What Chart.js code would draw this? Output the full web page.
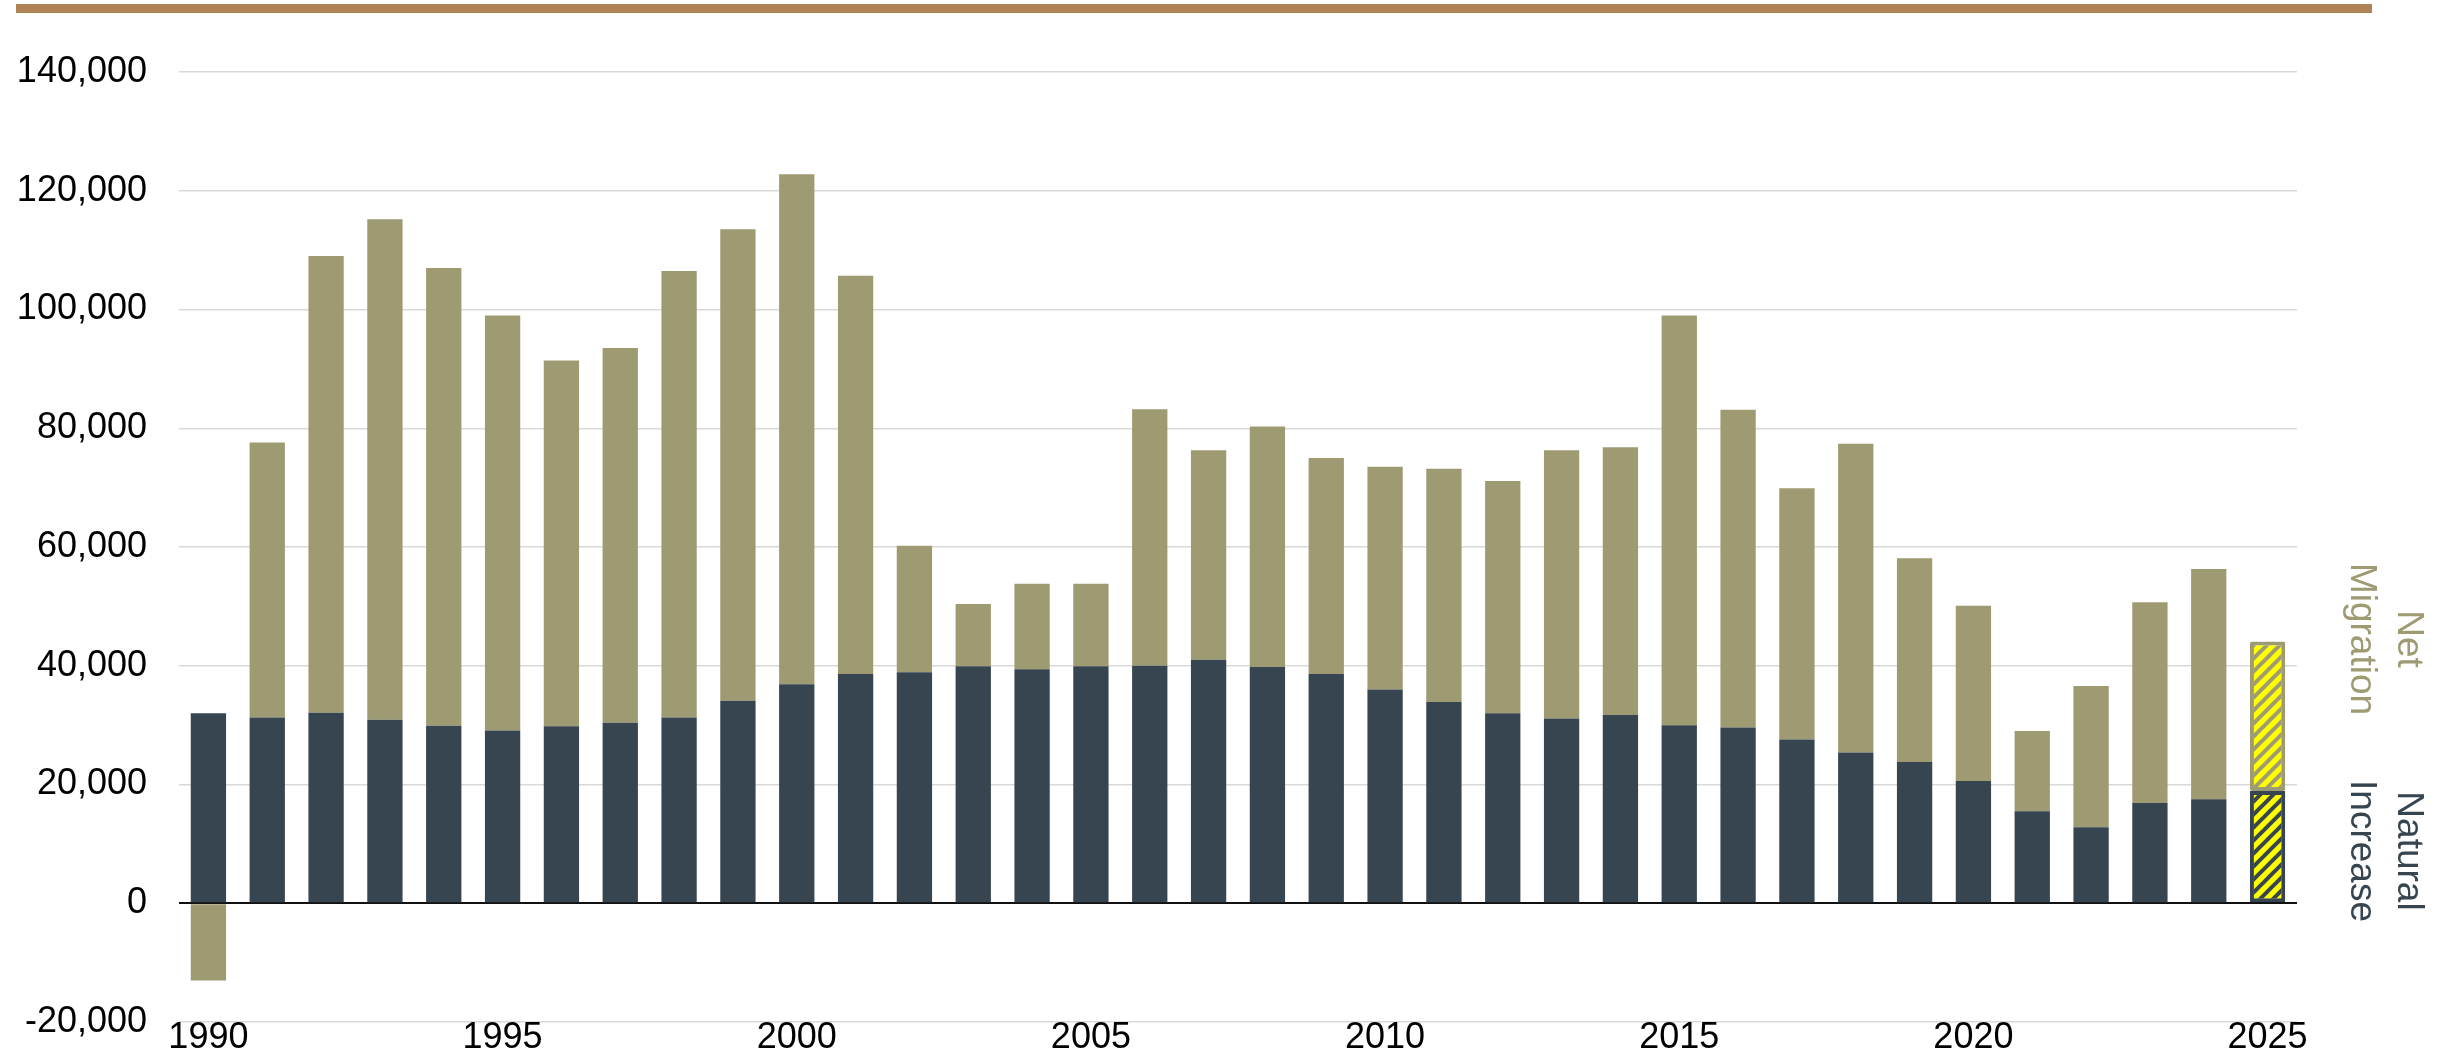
<!DOCTYPE html>
<html>
<head>
<meta charset="utf-8">
<title>Population growth components</title>
<script src="https://cdn.jsdelivr.net/npm/chart.js@4/dist/chart.umd.min.js"></script>
<style>
    html, body { margin: 0; padding: 0; background: #fff; }
    #wrap { width: 2440px; height: 1058px; }
</style>
</head>
<body>
<div id="wrap"><canvas id="barChart" width="2440" height="1058"></canvas></div>
<script>
const years = ['1990', '1991', '1992', '1993', '1994', '1995', '1996', '1997', '1998', '1999',
    '2000', '2001', '2002', '2003', '2004', '2005', '2006', '2007', '2008', '2009',
    '2010', '2011', '2012', '2013', '2014', '2015', '2016', '2017', '2018', '2019',
    '2020', '2021', '2022', '2023', '2024', '2025'];

const naturalIncrease = [32000, 31300, 32100, 30900, 29900, 29100, 29800, 30400, 31300, 34100,
    36900, 38600, 38900, 39900, 39400, 39900, 40000, 41000, 39800, 38600,
    36000, 33900, 32000, 31100, 31700, 30000, 29600, 27600, 25400, 23800,
    20600, 15500, 12800, 16900, 17500, 18900];

const netMigration = [-13000, 46300, 76900, 84300, 77100, 69900, 61600, 63100, 75200, 79400,
    85900, 67100, 21300, 10500, 14400, 13900, 43200, 35300, 40500, 36400,
    37500, 39300, 39100, 45200, 45100, 69000, 53500, 42300, 52000, 34300,
    29500, 13500, 23800, 33800, 38800, 25200];

const yTicks = [-20000, 0, 20000, 40000, 60000, 80000, 100000, 120000, 140000];

const darkColor = '#36454F';
const oliveColor = '#9E9B72';
const estimateIndex = years.length - 1;   // last year is an estimate, drawn hatched

function makeStripes(lineColor) {
    const size = 13;
    const c = document.createElement('canvas');
    c.width = size;
    c.height = size;
    const g = c.getContext('2d');
    g.fillStyle = '#FFFF00';
    g.fillRect(0, 0, size, size);
    g.strokeStyle = lineColor;
    g.lineWidth = 4;
    [-size, 0, size].forEach(function (o) {
        g.beginPath();
        g.moveTo(o - 2, size + 2);
        g.lineTo(o + size + 2, -2);
        g.stroke();
    });
    return g.createPattern(c, 'repeat');
}

const ctx = document.getElementById('barChart').getContext('2d');
const darkStripes = makeStripes(darkColor);
const oliveStripes = makeStripes(oliveColor);

function barStyle(color, pattern) {
    return {
        backgroundColor: c => c.dataIndex === estimateIndex ? pattern : color,
        borderColor: color,
        borderWidth: c => c.dataIndex === estimateIndex ? 4 : 0,
        borderRadius: c => c.dataIndex === estimateIndex ? 2 : 0,
        borderSkipped: false,
        barPercentage: 0.6,
        categoryPercentage: 1.0
    };
}

// brown rule across the top and the rotated series labels on the right
const decorations = {
    id: 'decorations',
    beforeDraw(chart) {
        const c = chart.ctx;
        c.save();
        c.fillStyle = '#B08357';
        c.fillRect(16, 4, 2356, 9);
        c.restore();
    },
    afterDraw(chart) {
        const c = chart.ctx;
        const labels = [
            { lines: ['Net', 'Migration'], x: 2408, y: 639, color: oliveColor },
            { lines: ['Natural', 'Increase'], x: 2408, y: 851, color: darkColor }
        ];
        c.save();
        c.font = '37px "Liberation Sans", Arial, sans-serif';
        c.textAlign = 'center';
        c.textBaseline = 'middle';
        labels.forEach(function (l) {
            c.save();
            c.translate(l.x, l.y);
            c.rotate(Math.PI / 2);
            c.fillStyle = l.color;
            l.lines.forEach(function (t, i) {
                c.fillText(t, 0, i * 47);
            });
            c.restore();
        });
        c.restore();
    }
};

new Chart(ctx, {
    type: 'bar',
    data: {
        labels: years,
        datasets: [
            Object.assign({ label: 'Natural Increase', data: naturalIncrease }, barStyle(darkColor, darkStripes)),
            Object.assign({ label: 'Net Migration', data: netMigration }, barStyle(oliveColor, oliveStripes))
        ]
    },
    options: {
        responsive: false,
        animation: false,
        layout: {
            padding: { top: 72, right: 143, bottom: 0, left: 0 }
        },
        plugins: {
            legend: { display: false },
            tooltip: { enabled: false }
        },
        scales: {
            x: {
                stacked: true,
                grid: { display: false },
                border: { display: false },
                ticks: {
                    autoSkip: false,
                    maxRotation: 0,
                    padding: -14,
                    color: '#000',
                    font: { family: '"Liberation Sans", Arial, sans-serif', size: 36 },
                    callback: function (value) {
                        const y = years[value];
                        return Number(y) % 5 === 0 ? y : null;
                    }
                },
                afterFit: function (scale) { scale.height = 36; }
            },
            y: {
                stacked: true,
                min: -20000,
                max: 140000,
                afterBuildTicks: function (scale) {
                    scale.ticks = yTicks.map(v => ({ value: v }));
                },
                grid: {
                    drawTicks: false,
                    color: c => c.tick && c.tick.value === 0 ? '#111' : '#D9D9D9',
                    lineWidth: c => c.tick && c.tick.value === 0 ? 2 : 1.5
                },
                border: { display: false },
                ticks: {
                    padding: 32,
                    color: '#000',
                    font: { family: '"Liberation Sans", Arial, sans-serif', size: 36 },
                    callback: v => v.toLocaleString('en-US')
                },
                afterFit: function (scale) {
                    scale.width = 179;
                    scale.paddingTop = 0;
                    scale.paddingBottom = 0;
                }
            }
        }
    },
    plugins: [decorations]
});
</script>
</body>
</html>
